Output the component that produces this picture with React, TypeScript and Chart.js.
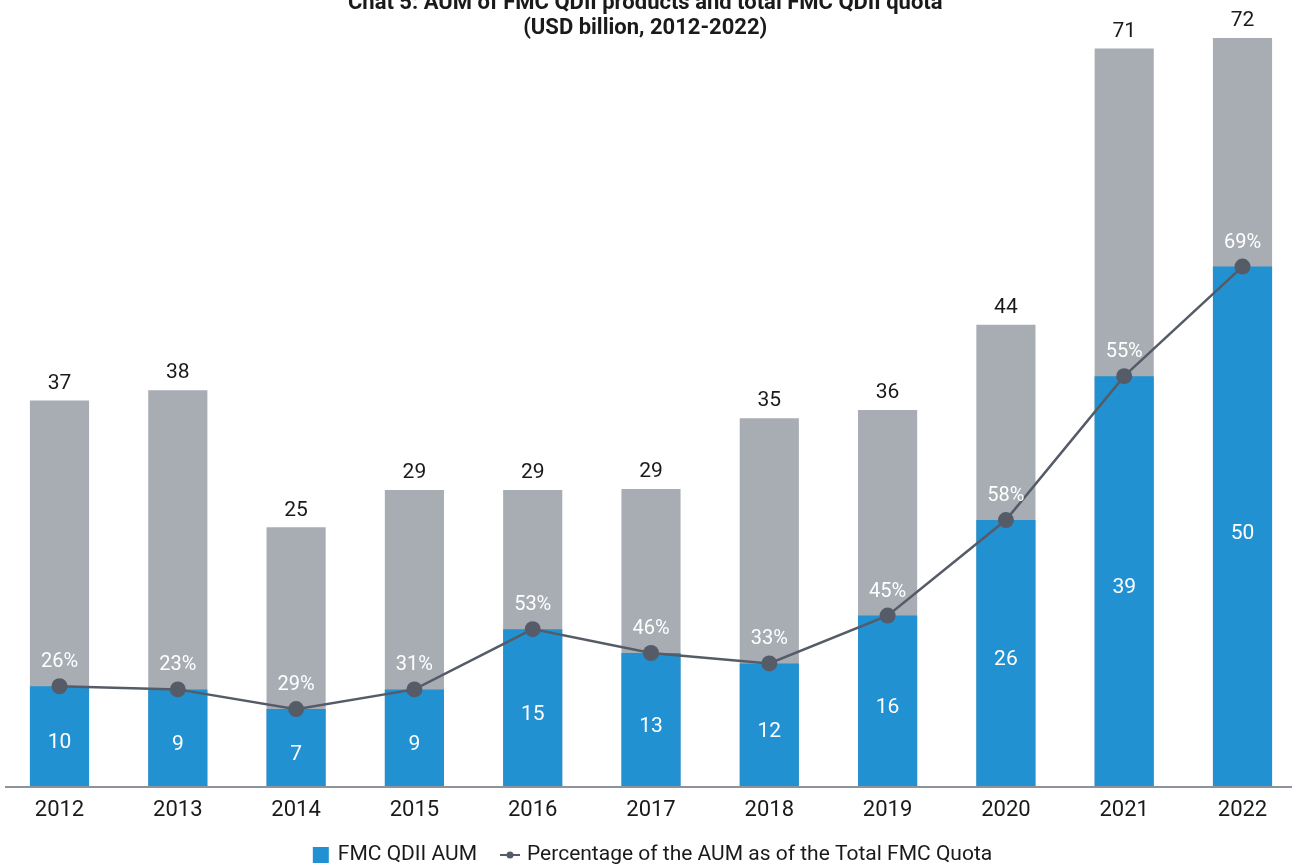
import React, { useEffect, useRef } from "react";
import { Chart, registerables } from "chart.js";

Chart.register(...registerables);

const years = ["2012", "2013", "2014", "2015", "2016", "2017", "2018", "2019", "2020", "2021", "2022"];
// Total FMC QDII quota (USD bn)
const totalQuota = [37.1, 38.1, 24.9, 28.5, 28.5, 28.6, 35.4, 36.2, 44.4, 71.0, 72.0];
// FMC QDII AUM (USD bn)
const qdiiAum = [9.6, 9.3, 7.4, 9.3, 15.1, 12.8, 11.8, 16.4, 25.6, 39.45, 50.0];
// AUM as % of total quota
const aumSharePct = [26, 23, 29, 31, 53, 46, 33, 45, 58, 55, 69];
const titleLines = ["Chat 5: AUM of FMC QDII products and total FMC QDII quota", "(USD billion, 2012-2022)"];
const legendTexts = ["FMC QDII AUM", "Percentage of the AUM as of the Total FMC Quota"];

const FONT = "Roboto, 'Noto Sans', Arial, sans-serif";
const BLUE = "#2191d1";
const GRAY = "#a8adb4";
const LINE = "#555c67";
const TEXT = "#1a1a1a";
const AXIS = "#8e939b";

function makeSquareIcon(): HTMLCanvasElement {
  const c = document.createElement("canvas");
  c.width = 40;
  c.height = 16;
  const g = c.getContext("2d")!;
  g.fillStyle = BLUE;
  g.fillRect(20, 0, 16, 16);
  return c;
}

function makeLineIcon(): HTMLCanvasElement {
  const c = document.createElement("canvas");
  c.width = 40;
  c.height = 16;
  const g = c.getContext("2d")!;
  g.strokeStyle = LINE;
  g.lineWidth = 2;
  g.beginPath();
  g.moveTo(18, 8);
  g.lineTo(38, 8);
  g.stroke();
  g.fillStyle = LINE;
  g.beginPath();
  g.arc(28, 8, 3.5, 0, Math.PI * 2);
  g.fill();
  return c;
}

const baselinePlugin = {
  id: "baseline",
  beforeDatasetsDraw(chart: any) {
    const { ctx, chartArea, width } = chart;
    ctx.save();
    ctx.strokeStyle = AXIS;
    ctx.lineWidth = 2;
    ctx.beginPath();
    ctx.moveTo(5, chartArea.bottom + 1);
    ctx.lineTo(width - 1, chartArea.bottom + 1);
    ctx.stroke();
    ctx.restore();
  },
};

const labelPlugin = {
  id: "valueLabels",
  afterDatasetsDraw(chart: any) {
    const { ctx } = chart;
    ctx.save();
    ctx.textAlign = "center";
    ctx.textBaseline = "middle";
    // total quota labels (above gray bars)
    const grayMeta = chart.getDatasetMeta(2);
    ctx.font = `21px ${FONT}`;
    ctx.fillStyle = TEXT;
    grayMeta.data.forEach((el: any, i: number) => {
      ctx.fillText(String(Math.round(totalQuota[i])), el.x, el.y - 17);
    });
    // AUM labels inside blue bars
    const blueMeta = chart.getDatasetMeta(1);
    ctx.fillStyle = "#ffffff";
    blueMeta.data.forEach((el: any, i: number) => {
      ctx.fillText(String(Math.round(qdiiAum[i])), el.x, (el.y + el.base) / 2 + 7);
    });
    // percentage labels above points
    const lineMeta = chart.getDatasetMeta(0);
    ctx.font = `20px ${FONT}`;
    lineMeta.data.forEach((el: any, i: number) => {
      ctx.fillText(`${aumSharePct[i]}%`, el.x, el.y - 24);
    });
    ctx.restore();
  },
};

export default function App() {
  const ref = useRef<HTMLCanvasElement>(null);

  useEffect(() => {
    if (!ref.current) return;
    const squareIcon = makeSquareIcon();
    const lineIcon = makeLineIcon();
    const chart = new Chart(ref.current, {
      type: "bar",
      data: {
        labels: years,
        datasets: [
          {
            type: "line",
            label: legendTexts[1],
            data: qdiiAum,
            borderColor: LINE,
            backgroundColor: LINE,
            borderWidth: 2.5,
            pointRadius: 8,
            pointBackgroundColor: LINE,
            pointBorderColor: LINE,
            pointBorderWidth: 0,
            tension: 0,
            clip: false,
            order: 0,
          } as any,
          {
            type: "bar",
            label: legendTexts[0],
            data: qdiiAum,
            backgroundColor: BLUE,
            borderWidth: 0,
            grouped: false,
            categoryPercentage: 1,
            barPercentage: 0.5,
            clip: false,
            order: 1,
          } as any,
          {
            type: "bar",
            label: "Total FMC QDII quota",
            data: totalQuota,
            backgroundColor: GRAY,
            borderWidth: 0,
            grouped: false,
            categoryPercentage: 1,
            barPercentage: 0.5,
            clip: false,
            order: 2,
          } as any,
        ],
      },
      options: {
        responsive: true,
        maintainAspectRatio: false,
        animation: false,
        events: [],
        layout: { padding: { left: 48, right: 50.5, top: 0, bottom: -8.5 } },
        scales: {
          x: {
            offset: false,
            grid: { display: false, drawTicks: false },
            border: { display: false },
            ticks: {
              color: TEXT,
              font: { family: FONT, size: 22, lineHeight: 1.2 },
              padding: 10.8,
              maxRotation: 0,
              autoSkip: false,
            },
          },
          y: {
            display: true,
            min: 0,
            max: 72,
            grid: { display: false, drawTicks: false },
            border: { display: false },
            ticks: { display: false },
            afterFit: (s: any) => {
              s.width = 11.5;
            },
          },
        },
        plugins: {
          tooltip: { enabled: false },
          title: {
            display: true,
            text: titleLines,
            color: TEXT,
            font: { family: FONT, size: 22, weight: "bold", lineHeight: 25 / 22 },
            padding: { top: -9.5, bottom: -2.5 },
          },
          legend: {
            display: true,
            position: "bottom",
            labels: {
              usePointStyle: true,
              pointStyleWidth: 29,
              padding: 10.5,
              color: TEXT,
              font: { family: FONT, size: 21 },
              generateLabels: () => [
                {
                  text: legendTexts[0],
                  pointStyle: squareIcon,
                  fillStyle: BLUE,
                  strokeStyle: BLUE,
                  lineWidth: 0,
                  hidden: false,
                  datasetIndex: 1,
                  fontColor: TEXT,
                } as any,
                {
                  text: legendTexts[1],
                  pointStyle: lineIcon,
                  fillStyle: LINE,
                  strokeStyle: LINE,
                  lineWidth: 0,
                  hidden: false,
                  datasetIndex: 0,
                  fontColor: TEXT,
                } as any,
              ],
            },
          },
        },
      },
      plugins: [baselinePlugin, labelPlugin],
    });
    return () => chart.destroy();
  }, []);

  return (
    <div style={{ position: "fixed", left: 0, top: 0, width: "100vw", height: "100vh", background: "#ffffff" }}>
      <canvas ref={ref} />
    </div>
  );
}
